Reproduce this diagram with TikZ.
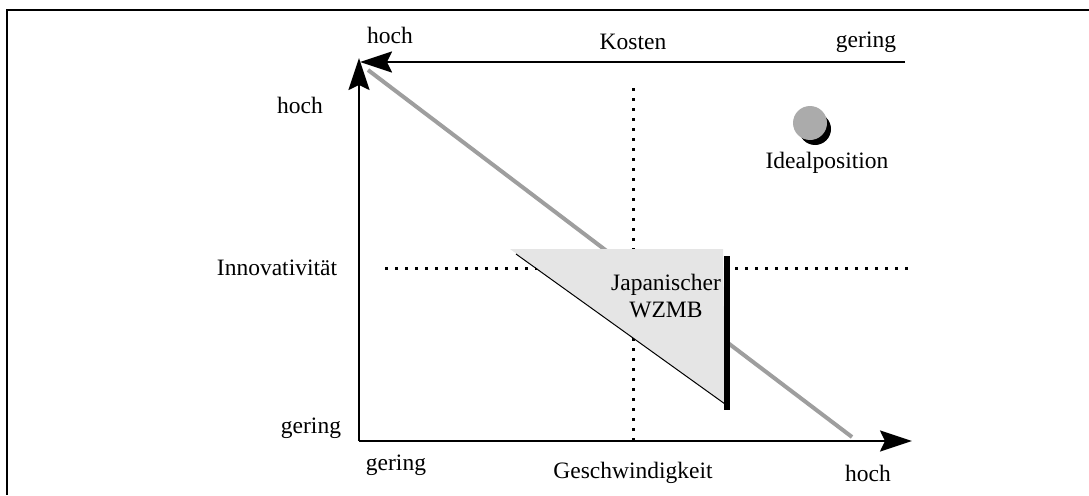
\documentclass[tikz,border=0pt]{standalone}
\usepackage{fontspec}
\setmainfont{Liberation Serif}
\usetikzlibrary{arrows.meta}
\begin{document}
\begin{tikzpicture}[x=1pt,y=-1pt,
  lbl/.style={inner sep=0pt,font=\fontsize{23.5}{27}\selectfont},
  axis/.style={line width=2pt,-{Stealth[length=32pt,width=21pt,inset=5pt]}},
  grid/.style={line width=3pt,dash pattern=on 3pt off 7pt},
  trend/.style={line width=4pt,color=black!38},
  frameline/.style={line width=2.5pt}]
  \useasboundingbox (0,0) rectangle (1089,495);

  % frame (top and left edges)
  \coordinate (fTL) at (7,10);
  \coordinate (fTR) at (1089,10);
  \coordinate (fBL) at (7,495);
  \draw[frameline] (fTR) -- (fTL) -- (fBL);

  % axis end points
  \coordinate (origin) at (359,441);
  \coordinate (ytop) at (359,58);
  \coordinate (xend) at (912,441);
  \coordinate (kstart) at (905,62);
  \coordinate (kend) at (360,62);

  % quadrant separators
  \coordinate (vTop) at (633,88);
  \coordinate (vBot) at (633,440);
  \coordinate (hL) at (385,268);
  \coordinate (hR) at (912,268);
  \draw[grid] (vTop) -- (vBot);
  \draw[grid] (hL) -- (hR);

  % trade-off line
  \coordinate (tA) at (368,70);
  \coordinate (tB) at (852,437);
  \draw[trend] (tA) -- (tB);

  % position of the Japanese machine tool industry
  \coordinate (jA) at (510,249);
  \coordinate (jB) at (723,249);
  \coordinate (jC) at (725,404);
  \coordinate (jH) at (516,254);
  \coordinate (jT) at (727,256);
  \coordinate (jU) at (727,410);
  \fill[black!10] (jA) -- (jB) -- (jC) -- cycle;
  \draw[line width=1pt] (jH) -- (jC);
  \draw[line width=6pt] (jT) -- (jU);
  \node[lbl,align=center] (jap) at (666,296) {Japanischer\\WZMB};

  % axes
  \draw[axis] (origin) -- (ytop);
  \draw[axis] (origin) -- (xend);
  \draw[axis] (kstart) -- (kend);

  % ideal position
  \fill[black] (815,129) circle (16);
  \fill[black!33] (810,123) circle (17);
  \node[lbl] (ideal) at (827,163) {Idealposition};

  % axis labels
  \node[lbl] (kHoch) at (390,35) {hoch};
  \node[lbl] (kosten) at (633,42) {Kosten};
  \node[lbl] (kGering) at (866,42) {gering};
  \node[lbl] (iHoch) at (300,105) {hoch};
  \node[lbl] (innov) at (277,268) {Innovativität};
  \node[lbl] (iGering) at (311,428) {gering};
  \node[lbl] (gGering) at (396,465) {gering};
  \node[lbl] (gesch) at (633,473) {Geschwindigkeit};
  \node[lbl] (gHoch) at (868,473) {hoch};
\end{tikzpicture}
\end{document}
